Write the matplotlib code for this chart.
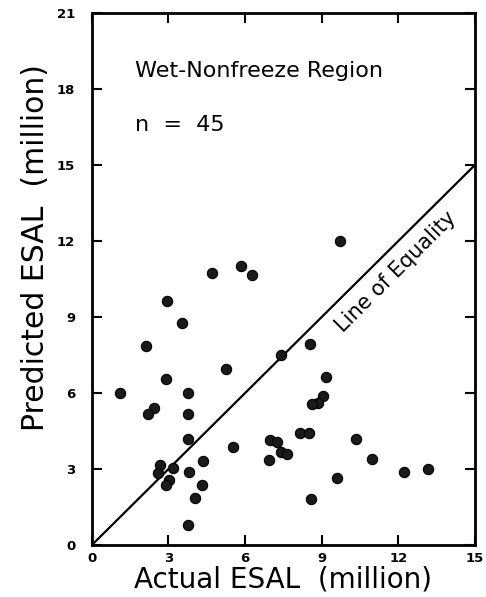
import numpy as np
import matplotlib.pyplot as plt

# actual vs predicted ESAL (million), wet-nonfreeze region
actual = [2.96, 3.55, 2.14, 8.54, 7.40, 5.27, 2.92, 1.10, 3.77, 9.19,
          9.06, 8.85, 8.62, 2.43, 2.21, 3.77, 3.77, 5.51, 6.97, 7.26,
          7.39, 7.63, 8.15, 8.51, 10.35, 6.95, 10.97, 12.23, 13.15, 9.62,
          8.60, 4.36, 4.33, 4.03, 3.77, 3.81, 2.66, 2.60, 3.19, 3.03,
          2.90, 4.69, 5.84, 6.28, 9.71]
predicted = [9.63, 8.77, 7.84, 7.92, 7.51, 6.95, 6.56, 6.00, 6.00, 6.65,
             5.87, 5.60, 5.57, 5.43, 5.17, 5.17, 4.20, 3.87, 4.15, 4.08,
             3.66, 3.59, 4.41, 4.41, 4.18, 3.35, 3.38, 2.89, 3.02, 2.65,
             1.83, 3.33, 2.37, 1.84, 0.79, 2.89, 3.16, 2.83, 3.03, 2.57,
             2.37, 10.75, 11.03, 10.65, 12.01]
ticks = [0, 3, 6, 9, 12, 15, 18, 21]

fig = plt.figure(figsize=(4.86, 5.97), dpi=100)
ax = fig.add_axes([0.189, 0.087, 0.788, 0.891])

ax.plot([0, 15], [0, 15], color='black', lw=1.6)
ax.scatter(actual, predicted, s=55, color='#1a1a1a', edgecolors='black',
           linewidths=0.8, zorder=3)

ax.set_xlim(0, 15)
ax.set_ylim(0, 21)
ax.set_xticks(ticks[:6])
ax.set_yticks(ticks)
ax.tick_params(direction='in', length=7, width=1.5, top=True, right=True,
               labelsize=9.5)
ax.tick_params(axis='y', pad=12)
ax.tick_params(axis='x', pad=5)
for lab in ax.get_xticklabels() + ax.get_yticklabels():
    lab.set_fontweight('bold')
for sp in ax.spines.values():
    sp.set_linewidth(2)

ax.set_xlabel('Actual ESAL  (million)', fontsize=20, labelpad=0)
ax.set_ylabel('Predicted ESAL  (million)', fontsize=21.5)
ax.yaxis.set_label_coords(-0.11, 0.56)

ax.text(1.7, 18.7, 'Wet-Nonfreeze Region', fontsize=16, va='center')
ax.text(1.7, 16.6, 'n  =  45', fontsize=16, va='center')
ax.text(11.9, 10.8, 'Line of Equality', fontsize=15, rotation=45,
        ha='center', va='center', rotation_mode='anchor')

fig.savefig('out.png', dpi=100)
